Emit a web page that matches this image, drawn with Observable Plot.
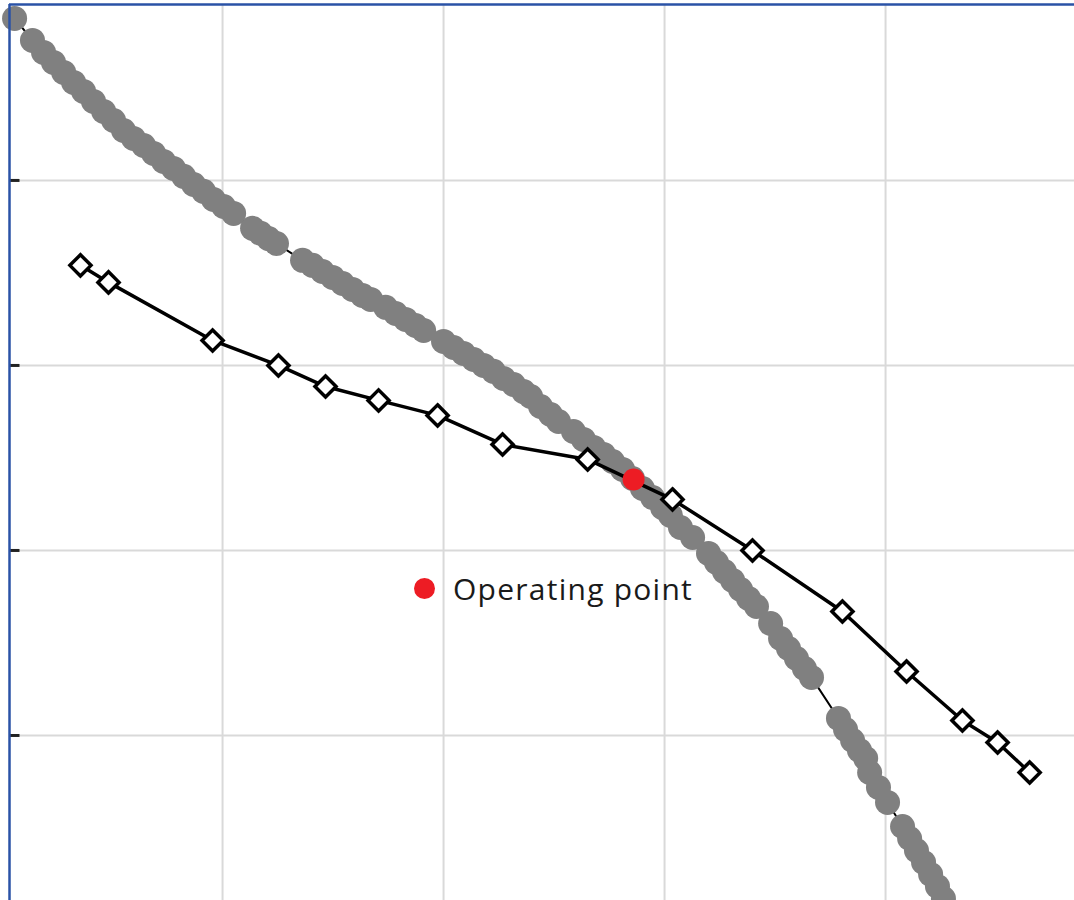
<!DOCTYPE html>
<html><head><meta charset="utf-8">
<script src="https://cdn.jsdelivr.net/npm/d3@7"></script>
<script src="https://cdn.jsdelivr.net/npm/@observablehq/plot@0.6"></script>
<style>
body{margin:0;background:#fff}
#wrap{position:relative;width:1074px;height:900px}
.legend{position:absolute;left:414px;top:567px;height:42px;display:flex;align-items:center;font-family:"Open Sans",sans-serif;font-size:30px;letter-spacing:1.25px;color:#1a1a1a;white-space:nowrap}
.legend .sw{width:21px;height:21px;border-radius:50%;background:#ed1c24;margin-right:18px;flex:none}
</style></head><body><div id="wrap"></div>
<script>
const xDomain = [0.036, 4.855];
const yDomain = [0.108, 4.951];
const xTicks = [1, 2, 3, 4];
const yTicks = [1, 2, 3, 4];

const curveX = [0.059,0.140,0.190,0.235,0.281,0.326,0.371,0.416,0.462,0.507,0.552,0.597,0.643,0.688,0.733,0.778,0.824,0.869,0.914,0.959,1.005,1.050,
  1.136,1.172,1.208,1.244,
  1.362,1.407,1.452,1.498,1.543,1.588,1.633,1.670,
  1.738,1.783,1.828,1.873,1.910,
  2.000,2.045,2.090,2.136,2.181,2.226,2.271,2.317,2.362,2.394,
  2.439,2.484,2.520,
  2.588,2.633,2.679,2.724,
  2.765,2.810,2.855,2.900,2.946,2.991,3.027,3.072,3.127,
  3.199,3.235,3.271,3.308,3.344,3.380,3.416,3.480,3.525,
  3.561,3.597,3.633,3.665,
  3.787,3.819,3.851,3.882,3.910,3.928,3.968,4.009,
  4.077,4.109,4.140,4.172,4.204,4.235,4.262];
const curveY = [4.876,4.757,4.692,4.638,4.584,4.530,4.481,4.427,4.373,4.324,4.270,4.227,4.189,4.146,4.103,4.065,4.022,3.978,3.941,3.897,3.859,3.822,
  3.741,3.714,3.686,3.659,
  3.568,3.541,3.508,3.476,3.443,3.411,3.378,3.357,
  3.314,3.281,3.249,3.216,3.189,
  3.130,3.097,3.065,3.032,3.000,2.968,2.930,2.897,2.859,2.832,
  2.778,2.735,2.697,
  2.643,2.600,2.557,2.519,
  2.481,2.438,2.389,2.335,2.286,2.232,2.189,2.124,2.070,
  1.984,1.935,1.886,1.838,1.789,1.741,1.697,1.605,1.524,
  1.470,1.416,1.362,1.314,
  1.092,1.032,0.973,0.919,0.876,0.800,0.719,0.638,
  0.508,0.443,0.378,0.314,0.249,0.184,0.119];

const diamondX = [0.357,0.484,0.955,1.253,1.466,1.706,1.973,2.267,2.652,3.036,3.398,3.805,4.095,4.348,4.507,4.652];
const diamondY = [3.541,3.449,3.135,3.000,2.886,2.811,2.730,2.573,2.492,2.276,2.000,1.670,1.346,1.081,0.962,0.800];

const opX = [2.860];
const opY = [2.384];
const legendLabel = "Operating point";

const curve = curveX.map((x, i) => ({x, y: curveY[i]}));
const diamonds = diamondX.map((x, i) => ({x, y: diamondY[i]}));
const op = opX.map((x, i) => ({x, y: opY[i]}));

const tickSymbol = {draw(ctx) { ctx.moveTo(0, 0); ctx.lineTo(10, 0); }};

const chart = Plot.plot({
  width: 1074, height: 900,
  marginLeft: 9, marginTop: 4, marginRight: 0, marginBottom: 0,
  style: {background: "#fff", overflow: "visible"},
  x: {domain: xDomain, axis: null},
  y: {domain: yDomain, axis: null},
  marks: [
    Plot.gridX(xTicks, {stroke: "#d9d9d9", strokeOpacity: 1, strokeWidth: 2}),
    Plot.gridY(yTicks, {stroke: "#d9d9d9", strokeOpacity: 1, strokeWidth: 2}),
    Plot.dot(yTicks, {y: d => d, frameAnchor: "left", symbol: tickSymbol, fill: "none", stroke: "#222", strokeWidth: 3}),
    Plot.line(curve, {x: "x", y: "y", stroke: "#000", strokeWidth: 2}),
    Plot.dot(curve, {x: "x", y: "y", r: 12.5, fill: "#808080", stroke: "none"}),
    Plot.line(diamonds, {x: "x", y: "y", stroke: "#000", strokeWidth: 3.5}),
    Plot.dot(diamonds, {x: "x", y: "y", symbol: "diamond2", r: 9.5, fill: "#fff", stroke: "#000", strokeWidth: 3.5}),
    Plot.dot(op, {x: "x", y: "y", r: 11, fill: "#ed1c24", stroke: "none"}),
    Plot.ruleX([xDomain[0]], {stroke: "#2a52a6", strokeWidth: 2.5}),
    Plot.ruleY([yDomain[1]], {stroke: "#2a52a6", strokeWidth: 2.5})
  ]
});
const wrap = document.getElementById("wrap");
wrap.appendChild(chart);
const lg = document.createElement("div");
lg.className = "legend";
lg.innerHTML = `<span class="sw"></span><span class="lb"></span>`;
lg.querySelector(".lb").textContent = legendLabel;
wrap.appendChild(lg);
</script></body></html>
